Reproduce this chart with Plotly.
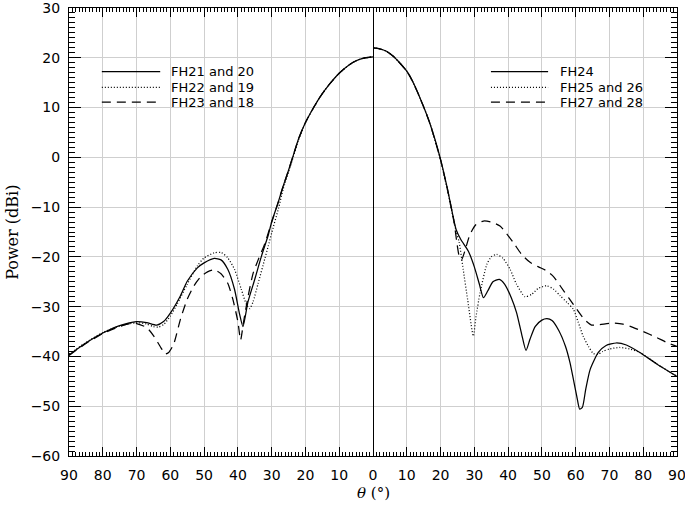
import plotly.graph_objects as go

# Left half (theta on the FH21/22/23 side, plotted at negative x)
theta_l_solid = [90, 85, 80, 75, 70, 67, 64, 62, 60, 57, 55, 52, 50, 47, 45, 43, 41, 39.5, 38.5, 37, 35, 33, 31, 30,
                 28, 26.6, 25, 23.6, 22, 20, 18, 15.7, 13, 10, 7, 5, 3, 0]
power_l_solid = [-39.7, -37.3, -35.3, -33.8, -33.0, -33.2, -33.7, -33.0, -31.3, -27.8, -24.9, -22.2, -21.2, -20.3, -20.6,
                 -22.5, -26.5, -31.5, -34.0, -29.0, -24.5, -19.8, -15.6, -13.0,
                 -8.9, -5.8, -2.6, 0.4, 3.8, 7.0, 9.5, 12.1, 14.6, 16.9, 18.6, 19.4, 19.9, 20.2]

theta_l_dot = [90, 85, 80, 75, 70, 67, 65, 63.5, 62, 60, 58, 55, 52, 50, 47, 45, 43, 41, 39, 37.5, 36.5, 35.5, 34, 32,
               31, 30, 28, 26.6, 25, 23.6, 22, 20, 18, 15.7, 13, 10, 7, 5, 3, 0]
power_l_dot = [-39.5, -37.2, -35.2, -33.9, -33.2, -33.5, -34.0, -34.1, -33.6, -31.9, -29.5, -25.5, -21.8, -20.2, -19.2,
               -19.1, -20.2, -22.5, -26.5, -29.5, -30.4, -29.0, -25.3, -20.3, -17.8, -15.2,
               -10.3, -6.4, -3.0, 0.1, 3.6, 6.9, 9.5, 12.1, 14.6, 16.9, 18.6, 19.4, 19.9, 20.2]

theta_l_dash = [90, 85, 80, 75, 72, 70, 67, 65, 63, 61.5, 60.5, 59, 57, 55, 53, 51, 49, 47, 45, 43, 41.5, 40, 39.2,
                38.3, 37, 35.5, 34, 32, 30, 28, 26.6, 25, 23.6, 22, 20, 18, 15.7, 13, 10, 7, 5, 3, 0]
power_l_dash = [-39.8, -37.4, -35.4, -34.0, -33.4, -33.4, -34.2, -35.8, -38.0, -39.5, -39.2, -37.5, -32.5, -28.5,
                -25.8, -24.0, -23.0, -22.6, -23.4, -25.3, -28.5, -33.0, -36.7, -33.0, -28.0, -23.3, -20.6, -17.3,
                -13.0, -8.9, -5.8, -2.6, 0.4, 3.8, 7.0, 9.5, 12.1, 14.6, 16.9, 18.6, 19.4, 19.9, 20.2]

# Right half (FH24/25-26/27-28)
theta_r_solid = [0, 2, 4, 6, 8, 10, 12, 14.9, 17, 20, 22, 24.6, 26, 28.2, 30, 31.5, 32.7, 34, 35.5, 37.4, 39, 41,
                 42.5, 44, 45.3, 46.5, 48, 50, 51.5, 53, 55, 57, 58.3, 60.3, 61.2, 62, 63, 64.3, 66.7, 69, 72, 75,
                 79, 84, 90]
power_r_solid = [22.0, 21.8, 21.3, 20.3, 18.9, 17.3, 14.9, 10.3, 6.5, -0.4, -6.2, -14.5, -16.5, -18.8, -22.0, -25.5,
                 -28.2, -26.8, -25.0, -24.5, -25.5, -28.3, -31.2, -35.5, -38.8, -36.5, -34.0, -32.7, -32.4, -32.8,
                 -34.8, -38.0, -41.2, -47.9, -50.6, -50.2, -46.5, -42.6, -39.2, -37.8, -37.3, -37.7, -39.2, -41.5,
                 -44.0]

theta_r_dot = [0, 2, 4, 6, 8, 10, 12, 14.9, 17, 20, 22, 24.6, 25.5, 26.7, 28, 29.7, 30.5, 31.7, 33.7, 35, 36.6, 38.5,
               40.6, 42.5, 45, 47, 49, 51.4, 53.5, 55.4, 57.5, 59.3, 60.7, 62.2, 63.8, 65.2, 66.5, 68, 70, 73, 76,
               79, 84, 90]
power_r_dot = [22.0, 21.8, 21.3, 20.3, 18.9, 17.3, 14.9, 10.3, 6.5, -0.6, -6.5, -14.8, -17.0, -22.5, -28.5, -35.9,
               -32.0, -27.2, -21.5, -20.0, -19.5, -20.3, -22.5, -25.5, -28.0, -27.5, -26.3, -25.8, -26.5, -27.8,
               -29.2, -30.5, -33.0, -35.9, -38.0, -39.4, -39.6, -39.0, -38.5, -38.2, -38.5, -39.2, -41.5, -44.0]

theta_r_dash = [0, 2, 4, 6, 8, 10, 12, 14.9, 17, 20, 22, 24, 24.8, 25.5, 26.2, 27.3, 28.7, 30.5, 32.7, 35, 37.6,
                41.5, 44, 46.5, 49, 51.4, 53.5, 55.4, 58, 60.3, 62.5, 64.7, 67, 71.1, 74, 77.1, 80, 84, 87, 90]
power_r_dash = [22.0, 21.8, 21.3, 20.3, 18.9, 17.3, 14.9, 10.3, 6.5, -0.5, -6.3, -13.0, -17.0, -19.8, -20.6, -18.6,
                -15.5, -13.5, -12.8, -13.0, -13.8, -17.1, -19.5, -21.1, -22.0, -22.8, -24.0, -25.8, -28.3, -30.5,
                -32.5, -33.7, -33.6, -33.3, -33.5, -34.2, -35.0, -36.2, -37.2, -38.0]

x_ticks = list(range(-90, 91, 10))
x_ticklabels = [str(abs(v)) for v in x_ticks]
y_ticks = list(range(-60, 31, 10))

legend_left = ["FH21 and 20", "FH22 and 19", "FH23 and 18"]
legend_right = ["FH24", "FH25 and 26", "FH27 and 28"]

dashes = ["solid", "1px,2px", "9px,6px"]

fig = go.Figure()

left_sets = [(theta_l_solid, power_l_solid), (theta_l_dot, power_l_dot), (theta_l_dash, power_l_dash)]
right_sets = [(theta_r_solid, power_r_solid), (theta_r_dot, power_r_dot), (theta_r_dash, power_r_dash)]

for (th, pw), name, d in zip(left_sets, legend_left, dashes):
    fig.add_trace(go.Scatter(x=[-t for t in th], y=pw, mode='lines', name=name,
                             line=dict(color='black', width=1.25, dash=d, shape='spline', smoothing=0.6)))
for (th, pw), name, d in zip(right_sets, legend_right, dashes):
    fig.add_trace(go.Scatter(x=th, y=pw, mode='lines', name=name,
                             line=dict(color='black', width=1.25, dash=d, shape='spline', smoothing=0.6)))

# hand-drawn legends (long line samples like the original)
leg_y = [0.858, 0.823, 0.790]
for i in range(3):
    fig.add_shape(type='line', xref='paper', yref='paper', x0=0.054, x1=0.150, y0=leg_y[i], y1=leg_y[i],
                  line=dict(color='black', width=1.25, dash=dashes[i]))
    fig.add_annotation(xref='paper', yref='paper', x=0.166, y=leg_y[i], text=legend_left[i], showarrow=False,
                       xanchor='left', yanchor='middle', borderpad=0,
                       font=dict(family='DejaVu Sans', size=13, color='black'))
    fig.add_shape(type='line', xref='paper', yref='paper', x0=0.694, x1=0.788, y0=leg_y[i], y1=leg_y[i],
                  line=dict(color='black', width=1.25, dash=dashes[i]))
    fig.add_annotation(xref='paper', yref='paper', x=0.806, y=leg_y[i], text=legend_right[i], showarrow=False,
                       xanchor='left', yanchor='middle', borderpad=0,
                       font=dict(family='DejaVu Sans', size=13, color='black'))

# axis titles
fig.add_annotation(xref='paper', yref='paper', x=-0.094, y=0.5, text='Power (dBi)', textangle=-90,
                   showarrow=False, xanchor='center', yanchor='middle',
                   font=dict(family='DejaVu Serif', size=16, color='black'))
fig.add_annotation(xref='paper', yref='paper', x=0.5, y=-0.083, text='<i>θ</i> (°)', showarrow=False,
                   xanchor='center', yanchor='middle', font=dict(family='DejaVu Serif', size=15, color='black'))

# end labels (90, 30) touch the page edge, so let them overflow instead of being hidden
fig.update_xaxes(range=[-90, 90], tickvals=x_ticks, ticktext=x_ticklabels, ticks='inside', ticklen=9,
                 tickcolor='black', showline=True, linecolor='black', linewidth=1, mirror='allticks',
                 showgrid=True, gridcolor='#cfcfcf', gridwidth=1.2,
                 zeroline=True, zerolinecolor='black', zerolinewidth=1.3,
                 minor=dict(dtick=1, ticklen=4, tickcolor='black', ticks='inside', showgrid=False),
                 tickfont=dict(family='DejaVu Sans', size=14, color='black'), ticklabelstandoff=6,
                 ticklabeloverflow='allow', automargin=False)
fig.update_yaxes(range=[-60, 30], tickvals=y_ticks, ticks='inside', ticklen=12,
                 tickcolor='black', showline=True, linecolor='black', linewidth=1, mirror='allticks',
                 showgrid=True, gridcolor='#cfcfcf', gridwidth=1.2, zeroline=False,
                 minor=dict(dtick=1, ticklen=6, tickcolor='black', ticks='inside', showgrid=False),
                 tickfont=dict(family='DejaVu Sans', size=14, color='black'), ticklabelstandoff=5,
                 ticklabeloverflow='allow', automargin=False)

fig.update_layout(width=685, height=506, margin=dict(l=69, r=8, t=8, b=50), showlegend=False,
                  plot_bgcolor='white', paper_bgcolor='white')

# page body has a default 8px margin, drop it so the figure sits at the window corner
fig.write_html("out.html", config={'displayModeBar': False},
               post_script="document.body.style.margin='0px';")
